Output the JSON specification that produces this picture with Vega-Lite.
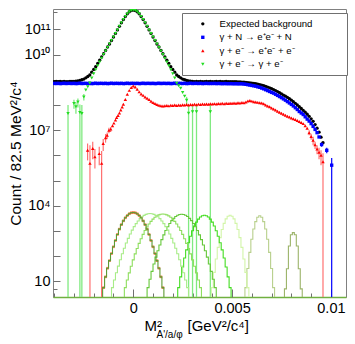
{
"$schema":"https://vega.github.io/schema/vega-lite/v6.json",
"width":293,"height":288,
"autosize":{"type":"none"},
"padding":{"left":53,"top":9,"right":9,"bottom":47},
"background":"white",
"config":{
 "view":{"stroke":"#808080","strokeWidth":1},
 "axis":{"grid":false,"labelFont":"Liberation Sans","titleFont":"Liberation Sans","labelColor":"#000","titleColor":"#000","tickColor":"#707070","domainColor":"#808080","titleFontWeight":"normal","labelFontSize":14.5,"titleFontSize":15,"labelFlush":false,"labelOverlap":false},
 "legend":{"orient":"none","legendX":129,"legendY":4,"fillColor":"#ffffff","strokeColor":"#707070","padding":6,"rowPadding":2.5,"symbolSize":12,"symbolOffset":10,"labelOffset":12,"labelFont":"Liberation Sans","labelFontSize":9.6,"labelColor":"#000","labelLimit":300,"titleOrient":"right","titleColor":"#ffffff","titlePadding":26,"titleFontSize":8,"symbolStrokeWidth":0}
},
"datasets":{
"pts":[
{"s":"bkg","x":-0.004,"y":8.5e8},{"s":"bkg","x":-0.0039,"y":8.6e8},{"s":"bkg","x":-0.0038,"y":8.4e8},{"s":"bkg","x":-0.0037,"y":8.55e8},{"s":"bkg","x":-0.0036,"y":8.45e8},{"s":"bkg","x":-0.0035,"y":8.6e8},{"s":"bkg","x":-0.0034,"y":8.5e8},{"s":"bkg","x":-0.0033,"y":8.4e8},{"s":"bkg","x":-0.0032,"y":8.55e8},{"s":"bkg","x":-0.0031,"y":8.6e8},
{"s":"bkg","x":-0.003,"y":8.7e8},{"s":"bkg","x":-0.0029,"y":8.9e8},{"s":"bkg","x":-0.0028,"y":9.1e8},{"s":"bkg","x":-0.0027,"y":9.46e8},{"s":"bkg","x":-0.0026,"y":1.0e9},{"s":"bkg","x":-0.0025,"y":1.07e9},{"s":"bkg","x":-0.0024,"y":1.2e9},{"s":"bkg","x":-0.0023,"y":1.35e9},{"s":"bkg","x":-0.0022,"y":1.55e9},{"s":"bkg","x":-0.0021,"y":2.0e9},
{"s":"bkg","x":-0.002,"y":2.57e9},{"s":"bkg","x":-0.0019,"y":3.31e9},{"s":"bkg","x":-0.0018,"y":4.45e9},{"s":"bkg","x":-0.0017,"y":5.96e9},{"s":"bkg","x":-0.0016,"y":8.05e9},{"s":"bkg","x":-0.0015,"y":1.08e10},{"s":"bkg","x":-0.0014,"y":1.47e10},{"s":"bkg","x":-0.0013,"y":2.0e10},{"s":"bkg","x":-0.0012,"y":2.63e10},{"s":"bkg","x":-0.0011,"y":3.63e10},
{"s":"bkg","x":-0.001,"y":5.01e10},{"s":"bkg","x":-0.0009,"y":6.92e10},{"s":"bkg","x":-0.0008,"y":9.55e10},{"s":"bkg","x":-0.0007,"y":1.32e11},{"s":"bkg","x":-0.0006,"y":1.82e11},{"s":"bkg","x":-0.0005,"y":2.45e11},{"s":"bkg","x":-0.0004,"y":3.24e11},{"s":"bkg","x":-0.0003,"y":4.17e11},{"s":"bkg","x":-0.0002,"y":5.01e11},{"s":"bkg","x":-0.0001,"y":5.62e11},
{"s":"bkg","x":0,"y":5.89e11},
{"s":"bkg","x":0.0001,"y":5.62e11},{"s":"bkg","x":0.0002,"y":5.01e11},{"s":"bkg","x":0.0003,"y":4.17e11},{"s":"bkg","x":0.0004,"y":3.24e11},{"s":"bkg","x":0.0005,"y":2.45e11},{"s":"bkg","x":0.0006,"y":1.82e11},{"s":"bkg","x":0.0007,"y":1.32e11},{"s":"bkg","x":0.0008,"y":9.55e10},{"s":"bkg","x":0.0009,"y":6.92e10},{"s":"bkg","x":0.001,"y":5.01e10},
{"s":"bkg","x":0.0011,"y":3.63e10},{"s":"bkg","x":0.0012,"y":2.63e10},{"s":"bkg","x":0.0013,"y":2.0e10},{"s":"bkg","x":0.0014,"y":1.47e10},{"s":"bkg","x":0.0015,"y":1.08e10},{"s":"bkg","x":0.0016,"y":8.05e9},{"s":"bkg","x":0.0017,"y":5.96e9},{"s":"bkg","x":0.0018,"y":4.45e9},{"s":"bkg","x":0.0019,"y":3.31e9},{"s":"bkg","x":0.002,"y":2.57e9},
{"s":"bkg","x":0.0021,"y":2.0e9},{"s":"bkg","x":0.0022,"y":1.55e9},{"s":"bkg","x":0.0023,"y":1.35e9},{"s":"bkg","x":0.0024,"y":1.2e9},{"s":"bkg","x":0.0025,"y":1.07e9},{"s":"bkg","x":0.0026,"y":1.0e9},{"s":"bkg","x":0.0027,"y":9.46e8},{"s":"bkg","x":0.0028,"y":9.1e8},{"s":"bkg","x":0.0029,"y":8.9e8},{"s":"bkg","x":0.003,"y":8.7e8},
{"s":"bkg","x":0.0031,"y":8.5e8},{"s":"bkg","x":0.0032,"y":8.6e8},{"s":"bkg","x":0.0033,"y":8.4e8},{"s":"bkg","x":0.0034,"y":8.55e8},{"s":"bkg","x":0.0035,"y":8.45e8},{"s":"bkg","x":0.0036,"y":8.5e8},{"s":"bkg","x":0.0037,"y":8.6e8},{"s":"bkg","x":0.0038,"y":8.4e8},{"s":"bkg","x":0.0039,"y":8.55e8},{"s":"bkg","x":0.004,"y":8.45e8},
{"s":"bkg","x":0.0041,"y":8.5e8},{"s":"bkg","x":0.0042,"y":8.6e8},{"s":"bkg","x":0.0043,"y":8.4e8},{"s":"bkg","x":0.0044,"y":8.55e8},{"s":"bkg","x":0.0045,"y":8.45e8},{"s":"bkg","x":0.0046,"y":8.5e8},{"s":"bkg","x":0.0047,"y":8.6e8},{"s":"bkg","x":0.0048,"y":8.4e8},{"s":"bkg","x":0.0049,"y":8.5e8},{"s":"bkg","x":0.005,"y":8.45e8},
{"s":"bkg","x":0.0051,"y":8.4e8},{"s":"bkg","x":0.0052,"y":8.45e8},{"s":"bkg","x":0.0053,"y":8.3e8},{"s":"bkg","x":0.0054,"y":8.25e8},{"s":"bkg","x":0.0055,"y":8.13e8},{"s":"bkg","x":0.0056,"y":8.04e8},{"s":"bkg","x":0.0057,"y":7.94e8},{"s":"bkg","x":0.0058,"y":7.76e8},{"s":"bkg","x":0.0059,"y":7.59e8},{"s":"bkg","x":0.006,"y":7.41e8},
{"s":"bkg","x":0.0061,"y":7.24e8},{"s":"bkg","x":0.0062,"y":7.0e8},{"s":"bkg","x":0.0063,"y":6.76e8},{"s":"bkg","x":0.0064,"y":6.46e8},{"s":"bkg","x":0.0065,"y":6.17e8},{"s":"bkg","x":0.0066,"y":5.82e8},{"s":"bkg","x":0.0067,"y":5.5e8},{"s":"bkg","x":0.0068,"y":5.13e8},{"s":"bkg","x":0.0069,"y":4.79e8},{"s":"bkg","x":0.007,"y":4.42e8},
{"s":"bkg","x":0.0071,"y":4.07e8},{"s":"bkg","x":0.0072,"y":3.72e8},{"s":"bkg","x":0.0073,"y":3.39e8},{"s":"bkg","x":0.0074,"y":3.05e8},{"s":"bkg","x":0.0075,"y":2.75e8},{"s":"bkg","x":0.0076,"y":2.48e8},{"s":"bkg","x":0.0077,"y":2.24e8},{"s":"bkg","x":0.0078,"y":2.0e8},{"s":"bkg","x":0.0079,"y":1.78e8},{"s":"bkg","x":0.008,"y":1.55e8},
{"s":"bkg","x":0.0081,"y":1.35e8},{"s":"bkg","x":0.0082,"y":1.16e8},{"s":"bkg","x":0.0083,"y":1.0e8},{"s":"bkg","x":0.0084,"y":8.5e7},{"s":"bkg","x":0.0085,"y":7.24e7},{"s":"bkg","x":0.0086,"y":6.1e7},{"s":"bkg","x":0.0087,"y":5.13e7},{"s":"bkg","x":0.0088,"y":4.27e7},{"s":"bkg","x":0.0089,"y":3.55e7},{"s":"bkg","x":0.009,"y":2.82e7},
{"s":"bkg","x":0.0091,"y":2.24e7},{"s":"bkg","x":0.0092,"y":1.66e7},{"s":"bkg","x":0.0093,"y":1.2e7},{"s":"bkg","x":0.0094,"y":8.3e6},{"s":"bkg","x":0.0095,"y":5.25e6},{"s":"bkg","x":0.0096,"y":3.16e6},

{"s":"bh","x":-0.004,"y":7.2e8},{"s":"bh","x":-0.0039,"y":7.1e8},{"s":"bh","x":-0.0038,"y":7.25e8},{"s":"bh","x":-0.0037,"y":7.05e8},{"s":"bh","x":-0.0036,"y":7.15e8},{"s":"bh","x":-0.0035,"y":7.3e8},{"s":"bh","x":-0.0034,"y":7.1e8},{"s":"bh","x":-0.0033,"y":7.2e8},{"s":"bh","x":-0.0032,"y":7.2e8},{"s":"bh","x":-0.0031,"y":7.1e8},
{"s":"bh","x":-0.003,"y":7.25e8},{"s":"bh","x":-0.0029,"y":7.05e8},{"s":"bh","x":-0.0028,"y":7.15e8},{"s":"bh","x":-0.0027,"y":7.3e8},{"s":"bh","x":-0.0026,"y":7.1e8},{"s":"bh","x":-0.0025,"y":7.2e8},{"s":"bh","x":-0.0024,"y":7.2e8},{"s":"bh","x":-0.0023,"y":7.1e8},{"s":"bh","x":-0.0022,"y":7.25e8},{"s":"bh","x":-0.0021,"y":7.05e8},
{"s":"bh","x":-0.002,"y":7.15e8},{"s":"bh","x":-0.0019,"y":7.3e8},{"s":"bh","x":-0.0018,"y":7.1e8},{"s":"bh","x":-0.0017,"y":7.2e8},{"s":"bh","x":-0.0016,"y":7.2e8},{"s":"bh","x":-0.0015,"y":7.1e8},{"s":"bh","x":-0.0014,"y":7.25e8},{"s":"bh","x":-0.0013,"y":7.05e8},{"s":"bh","x":-0.0012,"y":7.15e8},{"s":"bh","x":-0.0011,"y":7.3e8},
{"s":"bh","x":-0.001,"y":7.1e8},{"s":"bh","x":-0.0009,"y":7.2e8},{"s":"bh","x":-0.0008,"y":7.2e8},{"s":"bh","x":-0.0007,"y":7.1e8},{"s":"bh","x":-0.0006,"y":7.25e8},{"s":"bh","x":-0.0005,"y":7.05e8},{"s":"bh","x":-0.0004,"y":7.15e8},{"s":"bh","x":-0.0003,"y":7.3e8},{"s":"bh","x":-0.0002,"y":7.1e8},{"s":"bh","x":-0.0001,"y":7.2e8},
{"s":"bh","x":0,"y":7.2e8},{"s":"bh","x":0.0001,"y":7.1e8},{"s":"bh","x":0.0002,"y":7.25e8},{"s":"bh","x":0.0003,"y":7.05e8},{"s":"bh","x":0.0004,"y":7.15e8},{"s":"bh","x":0.0005,"y":7.3e8},{"s":"bh","x":0.0006,"y":7.1e8},{"s":"bh","x":0.0007,"y":7.2e8},{"s":"bh","x":0.0008,"y":7.2e8},{"s":"bh","x":0.0009,"y":7.1e8},
{"s":"bh","x":0.001,"y":7.25e8},{"s":"bh","x":0.0011,"y":7.05e8},{"s":"bh","x":0.0012,"y":7.15e8},{"s":"bh","x":0.0013,"y":7.3e8},{"s":"bh","x":0.0014,"y":7.1e8},{"s":"bh","x":0.0015,"y":7.2e8},{"s":"bh","x":0.0016,"y":7.2e8},{"s":"bh","x":0.0017,"y":7.1e8},{"s":"bh","x":0.0018,"y":7.25e8},{"s":"bh","x":0.0019,"y":7.05e8},
{"s":"bh","x":0.002,"y":7.15e8},{"s":"bh","x":0.0021,"y":7.3e8},{"s":"bh","x":0.0022,"y":7.1e8},{"s":"bh","x":0.0023,"y":7.2e8},{"s":"bh","x":0.0024,"y":7.2e8},{"s":"bh","x":0.0025,"y":7.1e8},{"s":"bh","x":0.0026,"y":7.25e8},{"s":"bh","x":0.0027,"y":7.05e8},{"s":"bh","x":0.0028,"y":7.15e8},{"s":"bh","x":0.0029,"y":7.3e8},
{"s":"bh","x":0.003,"y":7.1e8},{"s":"bh","x":0.0031,"y":7.2e8},{"s":"bh","x":0.0032,"y":7.2e8},{"s":"bh","x":0.0033,"y":7.1e8},{"s":"bh","x":0.0034,"y":7.25e8},{"s":"bh","x":0.0035,"y":7.05e8},{"s":"bh","x":0.0036,"y":7.15e8},{"s":"bh","x":0.0037,"y":7.2e8},{"s":"bh","x":0.0038,"y":7.1e8},{"s":"bh","x":0.0039,"y":7.15e8},
{"s":"bh","x":0.004,"y":7.1e8},{"s":"bh","x":0.0041,"y":7.2e8},{"s":"bh","x":0.0042,"y":7.05e8},{"s":"bh","x":0.0043,"y":7.15e8},{"s":"bh","x":0.0044,"y":7.1e8},{"s":"bh","x":0.0045,"y":7.0e8},{"s":"bh","x":0.0046,"y":7.1e8},{"s":"bh","x":0.0047,"y":7.05e8},{"s":"bh","x":0.0048,"y":7.0e8},{"s":"bh","x":0.0049,"y":7.05e8},
{"s":"bh","x":0.005,"y":7.0e8},{"s":"bh","x":0.0051,"y":6.95e8},{"s":"bh","x":0.0052,"y":7.0e8},{"s":"bh","x":0.0053,"y":6.9e8},{"s":"bh","x":0.0054,"y":6.95e8},{"s":"bh","x":0.0055,"y":6.92e8},{"s":"bh","x":0.0056,"y":6.76e8},{"s":"bh","x":0.0057,"y":6.61e8},{"s":"bh","x":0.0058,"y":6.38e8},{"s":"bh","x":0.0059,"y":6.17e8},
{"s":"bh","x":0.006,"y":5.96e8},{"s":"bh","x":0.0061,"y":5.75e8},{"s":"bh","x":0.0062,"y":5.56e8},{"s":"bh","x":0.0063,"y":5.25e8},{"s":"bh","x":0.0064,"y":5.01e8},{"s":"bh","x":0.0065,"y":4.68e8},{"s":"bh","x":0.0066,"y":4.37e8},{"s":"bh","x":0.0067,"y":4.03e8},{"s":"bh","x":0.0068,"y":3.72e8},{"s":"bh","x":0.0069,"y":3.43e8},
{"s":"bh","x":0.007,"y":3.16e8},{"s":"bh","x":0.0071,"y":2.95e8},{"s":"bh","x":0.0072,"y":2.66e8},{"s":"bh","x":0.0073,"y":2.4e8},{"s":"bh","x":0.0074,"y":2.16e8},{"s":"bh","x":0.0075,"y":1.95e8},{"s":"bh","x":0.0076,"y":1.74e8},{"s":"bh","x":0.0077,"y":1.55e8},{"s":"bh","x":0.0078,"y":1.36e8},{"s":"bh","x":0.0079,"y":1.2e8},
{"s":"bh","x":0.008,"y":1.05e8},{"s":"bh","x":0.0081,"y":9.12e7},{"s":"bh","x":0.0082,"y":7.76e7},{"s":"bh","x":0.0083,"y":6.61e7},{"s":"bh","x":0.0084,"y":5.5e7},{"s":"bh","x":0.0085,"y":4.79e7},{"s":"bh","x":0.0086,"y":4.17e7},{"s":"bh","x":0.0087,"y":3.39e7},{"s":"bh","x":0.0088,"y":2.75e7},{"s":"bh","x":0.0089,"y":2.29e7},
{"s":"bh","x":0.009,"y":1.82e7},{"s":"bh","x":0.0091,"y":1.41e7},{"s":"bh","x":0.0092,"y":1.07e7},{"s":"bh","x":0.0093,"y":7.94e6},{"s":"bh","x":0.0094,"y":5.37e6},{"s":"bh","x":0.00953,"y":2.69e6,"lo":2.2e6,"hi":3.2e6},{"s":"bh","x":0.00979,"y":1.58e6,"lo":1.2e6,"hi":2.0e6},{"s":"bh","x":0.01004,"y":4.07e5,"lo":1,"hi":7.8e5},

{"s":"tri","x":-0.00231,"y":1.58e6,"lo":6.3e5,"hi":2.95e6},{"s":"tri","x":-0.00219,"y":4.8e5,"lo":1,"hi":2.5e6},{"s":"tri","x":-0.00205,"y":1.86e6,"lo":7e5,"hi":3.5e6},{"s":"tri","x":-0.00194,"y":8.7e5,"lo":3e5,"hi":1.8e6},{"s":"tri","x":-0.00172,"y":1.17e6,"lo":4e5,"hi":2.2e6},{"s":"tri","x":-0.0016,"y":4.8e5,"lo":1,"hi":1.5e6},{"s":"tri","x":-0.00152,"y":2.95e6,"lo":1.5e6,"hi":4.5e6},{"s":"tri","x":-0.0014,"y":5.0e6,"lo":3.2e6,"hi":7e6},{"s":"tri","x":-0.00132,"y":6.3e6,"lo":4.5e6,"hi":8e6},{"s":"tri","x":-0.00123,"y":1.0e7,"lo":7.5e6,"hi":1.25e7},{"s":"tri","x":-0.00114,"y":1.1e7,"lo":8.5e6,"hi":1.35e7},
{"s":"tri","x":-0.00105,"y":1.51e7},{"s":"tri","x":-0.00098,"y":1.9e7},{"s":"tri","x":-0.0009,"y":2.51e7},{"s":"tri","x":-0.00084,"y":3.16e7},{"s":"tri","x":-0.00077,"y":3.8e7},{"s":"tri","x":-0.0007,"y":4.79e7},{"s":"tri","x":-0.00063,"y":6.31e7},{"s":"tri","x":-0.00056,"y":8.32e7},{"s":"tri","x":-0.0005,"y":1.07e8},{"s":"tri","x":-0.0004,"y":1.66e8},
{"s":"tri","x":-0.0003,"y":2.69e8},{"s":"tri","x":-0.0002,"y":3.8e8},{"s":"tri","x":-0.0001,"y":4.9e8},{"s":"tri","x":0,"y":5.62e8},{"s":"tri","x":0.0001,"y":5.13e8},{"s":"tri","x":0.0002,"y":4.17e8},{"s":"tri","x":0.0003,"y":3.31e8},{"s":"tri","x":0.0004,"y":2.75e8},{"s":"tri","x":0.0005,"y":2.4e8},{"s":"tri","x":0.0006,"y":2.09e8},
{"s":"tri","x":0.0007,"y":1.86e8},{"s":"tri","x":0.0008,"y":1.66e8},{"s":"tri","x":0.0009,"y":1.41e8},{"s":"tri","x":0.001,"y":1.26e8},{"s":"tri","x":0.0011,"y":1.15e8},{"s":"tri","x":0.0012,"y":1.05e8},{"s":"tri","x":0.0013,"y":9.8e7},{"s":"tri","x":0.0014,"y":9.3e7},{"s":"tri","x":0.0015,"y":9.1e7},
{"s":"tri","x":0.0016,"y":9.3e7},{"s":"tri","x":0.0017,"y":9.6e7},{"s":"tri","x":0.0018,"y":9.2e7},{"s":"tri","x":0.0019,"y":9.7e7},{"s":"tri","x":0.002,"y":9.5e7},{"s":"tri","x":0.0021,"y":1.0e8},{"s":"tri","x":0.0022,"y":9.6e7},{"s":"tri","x":0.0023,"y":1.0e8},{"s":"tri","x":0.0024,"y":9.8e7},{"s":"tri","x":0.0025,"y":1.03e8},
{"s":"tri","x":0.0026,"y":9.9e7},{"s":"tri","x":0.0027,"y":1.04e8},{"s":"tri","x":0.0028,"y":1.0e8},{"s":"tri","x":0.0029,"y":1.05e8},{"s":"tri","x":0.003,"y":1.02e8},{"s":"tri","x":0.0031,"y":1.07e8},{"s":"tri","x":0.0032,"y":1.03e8},{"s":"tri","x":0.0033,"y":1.08e8},{"s":"tri","x":0.0034,"y":1.05e8},{"s":"tri","x":0.0035,"y":1.09e8},
{"s":"tri","x":0.0036,"y":1.06e8},{"s":"tri","x":0.0037,"y":1.1e8},{"s":"tri","x":0.0038,"y":1.07e8},{"s":"tri","x":0.0039,"y":1.12e8},{"s":"tri","x":0.004,"y":1.09e8},{"s":"tri","x":0.0041,"y":1.13e8},{"s":"tri","x":0.0042,"y":1.1e8},{"s":"tri","x":0.0043,"y":1.14e8},{"s":"tri","x":0.0044,"y":1.11e8},{"s":"tri","x":0.0045,"y":1.16e8},
{"s":"tri","x":0.0046,"y":1.12e8},{"s":"tri","x":0.0047,"y":1.17e8},{"s":"tri","x":0.0048,"y":1.14e8},{"s":"tri","x":0.0049,"y":1.18e8},{"s":"tri","x":0.005,"y":1.17e8},{"s":"tri","x":0.0051,"y":1.2e8},{"s":"tri","x":0.0052,"y":1.17e8},{"s":"tri","x":0.0053,"y":1.22e8},{"s":"tri","x":0.0054,"y":1.19e8},{"s":"tri","x":0.0055,"y":1.25e8},
{"s":"tri","x":0.0056,"y":1.23e8},{"s":"tri","x":0.0057,"y":1.3e8},{"s":"tri","x":0.0058,"y":1.45e8},{"s":"tri","x":0.0059,"y":1.5e8},{"s":"tri","x":0.006,"y":1.42e8},{"s":"tri","x":0.0061,"y":1.35e8},{"s":"tri","x":0.0062,"y":1.3e8},{"s":"tri","x":0.0063,"y":1.27e8},{"s":"tri","x":0.0064,"y":1.22e8},{"s":"tri","x":0.0065,"y":1.2e8},
{"s":"tri","x":0.0066,"y":1.12e8},{"s":"tri","x":0.0067,"y":1.0e8},{"s":"tri","x":0.0068,"y":9.12e7},{"s":"tri","x":0.0069,"y":8.51e7},{"s":"tri","x":0.007,"y":7.59e7},{"s":"tri","x":0.0071,"y":6.92e7},{"s":"tri","x":0.0072,"y":6.31e7},{"s":"tri","x":0.0073,"y":5.62e7},{"s":"tri","x":0.0074,"y":5.13e7},{"s":"tri","x":0.0075,"y":4.68e7},
{"s":"tri","x":0.0076,"y":4.27e7},{"s":"tri","x":0.0077,"y":3.89e7},{"s":"tri","x":0.0078,"y":3.55e7},{"s":"tri","x":0.0079,"y":3.31e7},{"s":"tri","x":0.008,"y":3.02e7},{"s":"tri","x":0.0081,"y":2.82e7},{"s":"tri","x":0.0082,"y":2.63e7},{"s":"tri","x":0.0083,"y":2.4e7},{"s":"tri","x":0.0084,"y":2.19e7},{"s":"tri","x":0.0085,"y":2.0e7},
{"s":"tri","x":0.0086,"y":1.82e7},{"s":"tri","x":0.0087,"y":1.51e7},{"s":"tri","x":0.0088,"y":1.2e7},{"s":"tri","x":0.0089,"y":7.94e6,"lo":6.3e6,"hi":1.0e7},{"s":"tri","x":0.009,"y":5.62e6,"lo":4.2e6,"hi":7.2e6},{"s":"tri","x":0.0091,"y":3.98e6,"lo":2.5e6,"hi":5.5e6},{"s":"tri","x":0.0092,"y":2.63e6,"lo":1.8e6,"hi":3.5e6},{"s":"tri","x":0.0093,"y":1.78e6,"lo":1.1e6,"hi":2.5e6},{"s":"tri","x":0.0094,"y":1.32e6,"lo":7e5,"hi":2.0e6},{"s":"tri","x":0.0095,"y":1.0e6,"lo":4e5,"hi":1.6e6},{"s":"tri","x":0.0096,"y":5.62e5,"lo":1,"hi":1.2e6},

{"s":"comp","x":-0.0033,"y":4.57e7,"lo":1,"hi":1.0e8},{"s":"comp","x":-0.003,"y":1.15e8,"lo":7e7,"hi":1.6e8},{"s":"comp","x":-0.0029,"y":8.5e7,"lo":4.5e7,"hi":1.3e8},{"s":"comp","x":-0.0028,"y":1.32e8,"lo":8e7,"hi":1.8e8},{"s":"comp","x":-0.0027,"y":5.0e7,"lo":1,"hi":1.05e8},{"s":"comp","x":-0.0026,"y":4.57e7,"lo":1,"hi":1.0e8},{"s":"comp","x":-0.0025,"y":2.09e8,"lo":1.5e8,"hi":2.7e8},{"s":"comp","x":-0.0024,"y":3.89e8},{"s":"comp","x":-0.0023,"y":5.25e8},{"s":"comp","x":-0.0022,"y":7.41e8},
{"s":"comp","x":-0.0021,"y":1.17e9},{"s":"comp","x":-0.002,"y":1.74e9},{"s":"comp","x":-0.0019,"y":2.51e9},{"s":"comp","x":-0.0018,"y":3.63e9},{"s":"comp","x":-0.0017,"y":5.13e9},{"s":"comp","x":-0.0016,"y":7.24e9},{"s":"comp","x":-0.0015,"y":1.0e10},{"s":"comp","x":-0.0014,"y":1.38e10},{"s":"comp","x":-0.0013,"y":1.91e10},{"s":"comp","x":-0.0012,"y":2.63e10},
{"s":"comp","x":-0.0011,"y":3.63e10},{"s":"comp","x":-0.001,"y":5.01e10},{"s":"comp","x":-0.0009,"y":6.92e10},{"s":"comp","x":-0.0008,"y":9.55e10},{"s":"comp","x":-0.0007,"y":1.32e11},{"s":"comp","x":-0.0006,"y":1.82e11},{"s":"comp","x":-0.0005,"y":2.45e11},{"s":"comp","x":-0.0004,"y":3.24e11},{"s":"comp","x":-0.0003,"y":4.17e11},{"s":"comp","x":-0.0002,"y":5.01e11},
{"s":"comp","x":-0.0001,"y":5.62e11},{"s":"comp","x":0,"y":5.89e11},{"s":"comp","x":0.0001,"y":5.62e11},{"s":"comp","x":0.0002,"y":5.01e11},{"s":"comp","x":0.0003,"y":4.17e11},{"s":"comp","x":0.0004,"y":3.24e11},{"s":"comp","x":0.0005,"y":2.45e11},{"s":"comp","x":0.0006,"y":1.82e11},{"s":"comp","x":0.0007,"y":1.32e11},{"s":"comp","x":0.0008,"y":9.55e10},
{"s":"comp","x":0.0009,"y":6.92e10},{"s":"comp","x":0.001,"y":5.01e10},{"s":"comp","x":0.0011,"y":3.63e10},{"s":"comp","x":0.0012,"y":2.63e10},{"s":"comp","x":0.0013,"y":1.91e10},{"s":"comp","x":0.0014,"y":1.38e10},{"s":"comp","x":0.0015,"y":1.0e10},{"s":"comp","x":0.0016,"y":7.24e9},{"s":"comp","x":0.0017,"y":5.13e9},{"s":"comp","x":0.0018,"y":3.63e9},
{"s":"comp","x":0.0019,"y":2.51e9},{"s":"comp","x":0.002,"y":1.74e9},{"s":"comp","x":0.0021,"y":1.17e9},{"s":"comp","x":0.0022,"y":7.24e8},{"s":"comp","x":0.0023,"y":5.75e8},{"s":"comp","x":0.0024,"y":4.57e8},{"s":"comp","x":0.0025,"y":3.16e8},{"s":"comp","x":0.0026,"y":2.24e8},{"s":"comp","x":0.0027,"y":1.55e8,"lo":1.0e8,"hi":2.1e8},{"s":"comp","x":0.0028,"y":4.68e7,"lo":1,"hi":1.0e8},
{"s":"comp","x":0.003,"y":5.37e7,"lo":1,"hi":1.1e8},{"s":"comp","x":0.0032,"y":5.37e7,"lo":1,"hi":1.1e8},{"s":"comp","x":0.0039,"y":5.37e7,"lo":1,"hi":1.1e8}
],
"sig":[
{"m":"H","x":0.0076,"y":1},{"m":"H","x":0.0077,"y":5},{"m":"H","x":0.0078,"y":31.6},{"m":"H","x":0.0079,"y":251},{"m":"H","x":0.008,"y":708},{"m":"H","x":0.0081,"y":851},{"m":"H","x":0.0082,"y":708},{"m":"H","x":0.0083,"y":251},{"m":"H","x":0.0084,"y":31.6},{"m":"H","x":0.0085,"y":5},{"m":"H","x":0.0086,"y":1},
{"m":"G","x":0.0056,"y":1},{"m":"G","x":0.0057,"y":5.6},{"m":"G","x":0.0058,"y":32},{"m":"G","x":0.0059,"y":140},{"m":"G","x":0.006,"y":467},{"m":"G","x":0.0061,"y":1194},{"m":"G","x":0.0062,"y":2330},{"m":"G","x":0.0063,"y":3480},{"m":"G","x":0.0064,"y":3980},{"m":"G","x":0.0065,"y":3480},{"m":"G","x":0.0066,"y":2330},{"m":"G","x":0.0067,"y":1194},{"m":"G","x":0.0068,"y":467},{"m":"G","x":0.0069,"y":140},{"m":"G","x":0.007,"y":32},{"m":"G","x":0.0071,"y":5.6},{"m":"G","x":0.0072,"y":1},
{"m":"F","x":0.0039,"y":1},{"m":"F","x":0.004,"y":5.6},{"m":"F","x":0.0041,"y":22.5},{"m":"F","x":0.0042,"y":76.6},{"m":"F","x":0.0043,"y":221},{"m":"F","x":0.0044,"y":542},{"m":"F","x":0.0045,"y":1130},{"m":"F","x":0.0046,"y":2000},{"m":"F","x":0.0047,"y":3010},{"m":"F","x":0.0048,"y":3845},{"m":"F","x":0.0049,"y":4170},{"m":"F","x":0.005,"y":3845},{"m":"F","x":0.0051,"y":3010},{"m":"F","x":0.0052,"y":2000},{"m":"F","x":0.0053,"y":1130},{"m":"F","x":0.0054,"y":542},{"m":"F","x":0.0055,"y":221},{"m":"F","x":0.0056,"y":76.6},{"m":"F","x":0.0057,"y":22.5},{"m":"F","x":0.0058,"y":5.6},{"m":"F","x":0.0059,"y":1},
{"m":"E","x":0.0022,"y":1},{"m":"E","x":0.0023,"y":5.6},{"m":"E","x":0.0024,"y":15},{"m":"E","x":0.0025,"y":36.7},{"m":"E","x":0.0026,"y":83.6},{"m":"E","x":0.0027,"y":176},{"m":"E","x":0.0028,"y":341},{"m":"E","x":0.0029,"y":614},{"m":"E","x":0.003,"y":1021},{"m":"E","x":0.0031,"y":1570},{"m":"E","x":0.0032,"y":2230},{"m":"E","x":0.0033,"y":2930},{"m":"E","x":0.0034,"y":3565},{"m":"E","x":0.0035,"y":4010},{"m":"E","x":0.0036,"y":4170},{"m":"E","x":0.0037,"y":4010},{"m":"E","x":0.0038,"y":3565},{"m":"E","x":0.0039,"y":2930},{"m":"E","x":0.004,"y":2230},{"m":"E","x":0.0041,"y":1570},{"m":"E","x":0.0042,"y":1021},{"m":"E","x":0.0043,"y":614},{"m":"E","x":0.0044,"y":341},{"m":"E","x":0.0045,"y":176},{"m":"E","x":0.0046,"y":83.6},{"m":"E","x":0.0047,"y":36.7},{"m":"E","x":0.0048,"y":15},{"m":"E","x":0.0049,"y":5.6},{"m":"E","x":0.005,"y":1},
{"m":"D","x":0.00065,"y":1},{"m":"D","x":0.00075,"y":5.6},{"m":"D","x":0.00085,"y":12.1},{"m":"D","x":0.00095,"y":24.8},{"m":"D","x":0.00105,"y":48.5},{"m":"D","x":0.00115,"y":91},{"m":"D","x":0.00125,"y":162},{"m":"D","x":0.00135,"y":277},{"m":"D","x":0.00145,"y":450},{"m":"D","x":0.00155,"y":698},{"m":"D","x":0.00165,"y":1038},{"m":"D","x":0.00175,"y":1470},{"m":"D","x":0.00185,"y":1980},{"m":"D","x":0.00195,"y":2560},{"m":"D","x":0.00205,"y":3155},{"m":"D","x":0.00215,"y":3710},{"m":"D","x":0.00225,"y":4170},{"m":"D","x":0.00235,"y":4465},{"m":"D","x":0.00245,"y":4570},
{"m":"D","x":0.00255,"y":4465},{"m":"D","x":0.00265,"y":4170},{"m":"D","x":0.00275,"y":3710},{"m":"D","x":0.00285,"y":3155},{"m":"D","x":0.00295,"y":2560},{"m":"D","x":0.00305,"y":1980},{"m":"D","x":0.00315,"y":1470},{"m":"D","x":0.00325,"y":1038},{"m":"D","x":0.00335,"y":698},{"m":"D","x":0.00345,"y":450},{"m":"D","x":0.00355,"y":277},{"m":"D","x":0.00365,"y":162},{"m":"D","x":0.00375,"y":91},{"m":"D","x":0.00385,"y":48.5},{"m":"D","x":0.00395,"y":24.8},{"m":"D","x":0.00405,"y":12.1},{"m":"D","x":0.00415,"y":5.6},{"m":"D","x":0.00425,"y":1},
{"m":"C","x":-0.0005,"y":1},{"m":"C","x":-0.0004,"y":5.6},{"m":"C","x":-0.0003,"y":11.2},{"m":"C","x":-0.0002,"y":21.5},{"m":"C","x":-0.0001,"y":39.7},{"m":"C","x":0,"y":71},{"m":"C","x":0.0001,"y":122},{"m":"C","x":0.0002,"y":201},{"m":"C","x":0.0003,"y":320},{"m":"C","x":0.0004,"y":491},{"m":"C","x":0.0005,"y":726},{"m":"C","x":0.0006,"y":1035},{"m":"C","x":0.0007,"y":1420},{"m":"C","x":0.0008,"y":1880},{"m":"C","x":0.0009,"y":2390},{"m":"C","x":0.001,"y":2940},{"m":"C","x":0.0011,"y":3480},{"m":"C","x":0.0012,"y":3950},{"m":"C","x":0.0013,"y":4340},{"m":"C","x":0.0014,"y":4590},{"m":"C","x":0.0015,"y":4680},
{"m":"C","x":0.0016,"y":4590},{"m":"C","x":0.0017,"y":4340},{"m":"C","x":0.0018,"y":3950},{"m":"C","x":0.0019,"y":3480},{"m":"C","x":0.002,"y":2940},{"m":"C","x":0.0021,"y":2390},{"m":"C","x":0.0022,"y":1880},{"m":"C","x":0.0023,"y":1420},{"m":"C","x":0.0024,"y":1035},{"m":"C","x":0.0025,"y":726},{"m":"C","x":0.0026,"y":491},{"m":"C","x":0.0027,"y":320},{"m":"C","x":0.0028,"y":201},{"m":"C","x":0.0029,"y":122},{"m":"C","x":0.003,"y":71},{"m":"C","x":0.0031,"y":39.7},{"m":"C","x":0.0032,"y":21.5},{"m":"C","x":0.0033,"y":11.2},{"m":"C","x":0.0034,"y":5.6},{"m":"C","x":0.0035,"y":1},
{"m":"B","x":-0.00115,"y":1},{"m":"B","x":-0.00105,"y":5.6},{"m":"B","x":-0.00095,"y":11.2},{"m":"B","x":-0.00085,"y":21.7},{"m":"B","x":-0.00075,"y":40},{"m":"B","x":-0.00065,"y":72},{"m":"B","x":-0.00055,"y":124},{"m":"B","x":-0.00045,"y":206},{"m":"B","x":-0.00035,"y":329},{"m":"B","x":-0.00025,"y":507},{"m":"B","x":-0.00015,"y":752},{"m":"B","x":-0.00005,"y":1070},{"m":"B","x":0.00005,"y":1475},{"m":"B","x":0.00015,"y":1950},{"m":"B","x":0.00025,"y":2490},{"m":"B","x":0.00035,"y":3060},{"m":"B","x":0.00045,"y":3630},{"m":"B","x":0.00055,"y":4140},{"m":"B","x":0.00065,"y":4540},{"m":"B","x":0.00075,"y":4810},{"m":"B","x":0.00085,"y":4900},
{"m":"B","x":0.00095,"y":4810},{"m":"B","x":0.00105,"y":4540},{"m":"B","x":0.00115,"y":4140},{"m":"B","x":0.00125,"y":3630},{"m":"B","x":0.00135,"y":3060},{"m":"B","x":0.00145,"y":2490},{"m":"B","x":0.00155,"y":1950},{"m":"B","x":0.00165,"y":1475},{"m":"B","x":0.00175,"y":1070},{"m":"B","x":0.00185,"y":752},{"m":"B","x":0.00195,"y":507},{"m":"B","x":0.00205,"y":329},{"m":"B","x":0.00215,"y":206},{"m":"B","x":0.00225,"y":124},{"m":"B","x":0.00235,"y":72},{"m":"B","x":0.00245,"y":40},{"m":"B","x":0.00255,"y":21.7},{"m":"B","x":0.00265,"y":11.2},{"m":"B","x":0.00275,"y":5.6},{"m":"B","x":0.00285,"y":1},
{"m":"A","x":-0.0016,"y":1},{"m":"A","x":-0.0015,"y":5.6},{"m":"A","x":-0.0014,"y":15},{"m":"A","x":-0.0013,"y":33},{"m":"A","x":-0.0012,"y":66},{"m":"A","x":-0.0011,"y":126},{"m":"A","x":-0.001,"y":234},{"m":"A","x":-0.0009,"y":417},{"m":"A","x":-0.0008,"y":724},{"m":"A","x":-0.0007,"y":1175},{"m":"A","x":-0.0006,"y":1780},{"m":"A","x":-0.0005,"y":2510},{"m":"A","x":-0.0004,"y":3310},{"m":"A","x":-0.0003,"y":4070},{"m":"A","x":-0.0002,"y":4790},{"m":"A","x":-0.0001,"y":5250},{"m":"A","x":0,"y":5370},
{"m":"A","x":0.0001,"y":5250},{"m":"A","x":0.0002,"y":4790},{"m":"A","x":0.0003,"y":4070},{"m":"A","x":0.0004,"y":3310},{"m":"A","x":0.0005,"y":2510},{"m":"A","x":0.0006,"y":1780},{"m":"A","x":0.0007,"y":1175},{"m":"A","x":0.0008,"y":724},{"m":"A","x":0.0009,"y":417},{"m":"A","x":0.001,"y":234},{"m":"A","x":0.0011,"y":126},{"m":"A","x":0.0012,"y":66},{"m":"A","x":0.0013,"y":33},{"m":"A","x":0.0014,"y":15},{"m":"A","x":0.0015,"y":5.6},{"m":"A","x":0.0016,"y":1}
]
},
"resolve":{"axis":{"x":"independent","y":"independent"}},
"layer":[
{"data":{"name":"pts"},"transform":[{"filter":"datum.s == 'comp' && isValid(datum.lo)"}],
 "mark":{"type":"rule","color":"#80ea80","strokeWidth":1.3,"clip":true},
 "encoding":{
  "x":{"field":"x","type":"quantitative","scale":{"type":"linear","domain":[-0.00406,0.010764],"nice":false,"zero":false},
   "axis":{"orient":"bottom","values":[-0.004,-0.003,-0.002,-0.001,0,0.001,0.002,0.003,0.004,0.005,0.006,0.007,0.008,0.009,0.01],"tickSize":-4,"labels":false,"domain":true,"domainColor":"#70b040","domainWidth":1.5,"title":"A'/a/φ","titleFontSize":10,"titleX":103,"titleY":40,"titleAlign":"left","titleBaseline":"alphabetic","titleAngle":0}},
  "y":{"field":"lo","type":"quantitative","scale":{"type":"log","domain":[2.377,6.46e11],"nice":false},
   "axis":{"orient":"left","values":[5,5e11],"tickSize":-4,"labels":false,"domain":false,"title":null}},
  "y2":{"field":"hi"}}},
{"data":{"name":"pts"},"transform":[{"filter":"datum.s == 'tri' && isValid(datum.lo)"}],
 "mark":{"type":"rule","color":"#ff7070","strokeWidth":1.2,"clip":true},
 "encoding":{
  "x":{"field":"x","type":"quantitative","scale":{"type":"linear","domain":[-0.00406,0.010764],"nice":false,"zero":false},"axis":null},
  "y":{"field":"lo","type":"quantitative","scale":{"type":"log","domain":[2.377,6.46e11],"nice":false},"axis":null},
  "y2":{"field":"hi"}}},
{"data":{"name":"pts"},"transform":[{"filter":"datum.s == 'bh' && isValid(datum.lo)"}],
 "mark":{"type":"rule","color":"#0000ff","strokeWidth":1.2,"clip":true},
 "encoding":{
  "x":{"field":"x","type":"quantitative","scale":{"type":"linear","domain":[-0.00406,0.010764],"nice":false,"zero":false},"axis":null},
  "y":{"field":"lo","type":"quantitative","scale":{"type":"log","domain":[2.377,6.46e11],"nice":false},"axis":null},
  "y2":{"field":"hi"}}},
{"data":{"name":"pts"},
 "mark":{"type":"point","filled":true,"opacity":1,"clip":true,"strokeWidth":0},
 "encoding":{
  "x":{"field":"x","type":"quantitative","scale":{"type":"linear","domain":[-0.00406,0.010764],"nice":false,"zero":false},
   "axis":{"orient":"bottom","values":[0,0.005,0.01],"format":"~g","tickSize":-8,"labelPadding":12,"domain":false,"title":"M²","titleFontSize":15,"titleX":91,"titleY":33,"titleAlign":"left","titleBaseline":"alphabetic","titleAngle":0}},
  "y":{"field":"y","type":"quantitative","scale":{"type":"log","domain":[2.377,6.46e11],"nice":false},
   "axis":{"orient":"left","values":[10,100,1000,10000,100000,1000000,10000000,100000000,1000000000,10000000000,100000000000],"tickSize":-7,"labelPadding":10,"domain":false,
    "labelExpr":"datum.value == 10 ? '10' : datum.value == 10000 ? '10⁴' : datum.value == 10000000 ? '10⁷' : datum.value == 10000000000 ? '10¹⁰' : datum.value == 100000000000 ? '10¹¹' : ''",
    "title":"Count / 82.5 MeV²/c⁴","titleFontSize":15.5,"titleX":-33,"titleY":144,"titleAngle":-90,"titleAlign":"center","titleBaseline":"alphabetic"}},
  "color":{"field":"s","type":"nominal","scale":{"domain":["bkg","bh","tri","comp"],"range":["#000000","#0000ff","#ff0000","#22dd22"]},
   "legend":{"title":".","labelExpr":"datum.label == 'bkg' ? 'Expected background' : datum.label == 'bh' ? 'γ + N → e⁺e⁻ + N' : datum.label == 'tri' ? 'γ + e⁻ → e⁺e⁻ + e⁻' : 'γ + e⁻ → γ + e⁻'"}},
  "shape":{"field":"s","type":"nominal","scale":{"domain":["bkg","bh","tri","comp"],"range":["circle","square","triangle-up","triangle-down"]},
   "legend":{"title":".","labelExpr":"datum.label == 'bkg' ? 'Expected background' : datum.label == 'bh' ? 'γ + N → e⁺e⁻ + N' : datum.label == 'tri' ? 'γ + e⁻ → e⁺e⁻ + e⁻' : 'γ + e⁻ → γ + e⁻'"}},
  "size":{"field":"s","type":"nominal","scale":{"domain":["bkg","bh","tri","comp"],"range":[11,12,14,18]},"legend":null}}},
{"data":{"name":"sig"},"transform":[{"filter":"datum.m == 'A' && datum.y > 2"}],
 "mark":{"type":"point","shape":"square","filled":true,"size":7,"color":"#f26a30","opacity":0.85,"clip":true},
 "encoding":{
  "x":{"field":"x","type":"quantitative","scale":{"type":"linear","domain":[-0.00406,0.010764],"nice":false,"zero":false},"axis":null},
  "y":{"field":"y","type":"quantitative","scale":{"type":"log","domain":[2.377,6.46e11],"nice":false},"axis":null}}},
{"data":{"name":"sig"},
 "mark":{"type":"line","interpolate":"step","strokeWidth":1.1,"clip":true},
 "encoding":{
  "x":{"field":"x","type":"quantitative","scale":{"type":"linear","domain":[-0.00406,0.010764],"nice":false,"zero":false},
   "axis":{"orient":"bottom","ticks":false,"labels":false,"domain":false,"title":"[GeV²/c⁴]","titleFontSize":15,"titleX":134,"titleY":33,"titleAlign":"left","titleBaseline":"alphabetic","titleAngle":0}},
  "y":{"field":"y","type":"quantitative","scale":{"type":"log","domain":[2.377,6.46e11],"nice":false},"axis":null},
  "stroke":{"field":"m","type":"nominal","scale":{"domain":["H","G","F","E","D","C","B","A"],"range":["#9cb46a","#b8d08c","#d2f5a8","#44dd22","#66c83a","#8ede5e","#a8ec88","#5e9a34"]},"legend":null}}}
]
}
